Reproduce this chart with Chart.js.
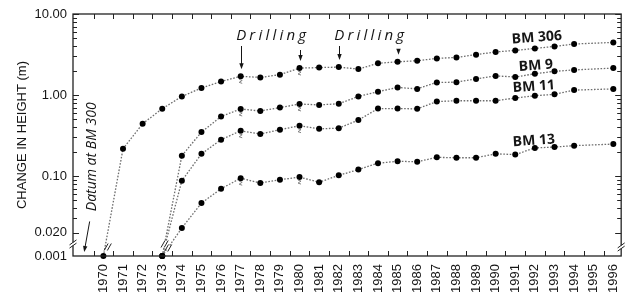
<!DOCTYPE html>
<html>
<head>
<meta charset="utf-8">
<script src="https://cdn.jsdelivr.net/npm/chart.js@4.4.0/dist/chart.umd.min.js"></script>
<style>
html, body { margin: 0; padding: 0; background: #fff; }
</style>
</head>
<body>
<canvas id="grafico" width="637" height="295"></canvas>
<script>
// Years on the x axis (1969 is the empty slot holding the datum note)
const anos = [1969, 1970, 1971, 1972, 1973, 1974, 1975, 1976, 1977, 1978, 1979, 1980, 1981, 1982,
              1983, 1984, 1985, 1986, 1987, 1988, 1989, 1990, 1991, 1992, 1993, 1994, 1995, 1996];
const anosRotulo = anos.slice(1);

// Change in height (m) per benchmark, null = no survey
const bm306 = [null, 0.001, 0.217, 0.442, 0.677, 0.96, 1.22, 1.47, 1.70, 1.65, 1.78, 2.15, 2.18, 2.21,
               2.09, 2.46, 2.57, 2.65, 2.83, 2.91, 3.15, 3.40, 3.55, 3.76, 3.98, 4.26, null, 4.46];
const bm9   = [null, null, null, null, 0.001, 0.178, 0.349, 0.544, 0.672, 0.635, 0.70, 0.774, 0.755, 0.78,
               0.96, 1.10, 1.24, 1.19, 1.43, 1.44, 1.58, 1.72, 1.67, 1.83, 1.96, 2.04, null, 2.15];
const bm11  = [null, null, null, null, 0.001, 0.0875, 0.188, 0.281, 0.362, 0.33, 0.373, 0.418, 0.382, 0.39,
               0.49, 0.68, 0.68, 0.675, 0.83, 0.85, 0.85, 0.85, 0.918, 0.98, 1.02, 1.15, null, 1.19];
const bm13  = [null, null, null, null, 0.001, 0.0228, 0.0464, 0.0697, 0.094, 0.082, 0.090, 0.097, 0.0838, 0.102,
               0.12, 0.144, 0.152, 0.15, 0.17, 0.168, 0.168, 0.188, 0.184, 0.222, 0.228, 0.237, null, 0.248];
const nomesSeries = ['BM 306', 'BM 9', 'BM 11', 'BM 13'];

// Y axis: broken below 0.020, the bottom edge stands for 0.001
const Y_MIN = 0.0103;
const Y_MAX = 10;
const ticksY = [Y_MIN, 0.02, 0.1, 1, 10];
const rotulosY = ['0.001', '0.020', '0.10', '1.00', '10.00'];

// Drilling years (arrows) and label spots
const anosPerfuracao = [1977, 1980, 1982, 1985];
const posRotulos = [[1992.1, 5.1], [1992.05, 2.3], [1991.95, 1.27], [1991.95, 0.272]];

const corTexto = '#151515';

function montarSerie(valores) {
    const pontos = [];
    valores.forEach(function (v, i) {
        if (v !== null) pontos.push({ x: anos[i], y: Math.max(v, Y_MIN) });
    });
    return pontos;
}

function seta(ctx, x1, y1, x2, y2) {
    const ang = Math.atan2(y2 - y1, x2 - x1);
    ctx.beginPath();
    ctx.moveTo(x1, y1);
    ctx.lineTo(x2 - 4 * Math.cos(ang), y2 - 4 * Math.sin(ang));
    ctx.stroke();
    ctx.beginPath();
    ctx.moveTo(x2, y2);
    ctx.lineTo(x2 - 6 * Math.cos(ang) + 2.2 * Math.sin(ang), y2 - 6 * Math.sin(ang) - 2.2 * Math.cos(ang));
    ctx.lineTo(x2 - 6 * Math.cos(ang) - 2.2 * Math.sin(ang), y2 - 6 * Math.sin(ang) + 2.2 * Math.cos(ang));
    ctx.closePath();
    ctx.fill();
}

function quebra(ctx, cx, cy, vertical) {
    // little "//" break mark
    ctx.save();
    ctx.fillStyle = '#fff';
    if (vertical) ctx.fillRect(cx - 3, cy - 1.5, 6, 3);
    else ctx.fillRect(cx - 1.5, cy - 3, 3, 6);
    ctx.strokeStyle = '#222';
    ctx.lineWidth = 1;
    [-1.6, 1.6].forEach(function (d) {
        ctx.beginPath();
        if (vertical) {
            ctx.moveTo(cx - 3.5, cy + d + 2.5);
            ctx.lineTo(cx + 3.5, cy + d - 2.5);
        } else {
            ctx.moveTo(cx + d - 2, cy + 3.5);
            ctx.lineTo(cx + d + 2, cy - 3.5);
        }
        ctx.stroke();
    });
    ctx.restore();
}

function textoEspacado(ctx, texto, cx, base, espaco) {
    let largura = 0;
    for (const c of texto) largura += ctx.measureText(c).width + espaco;
    largura -= espaco;
    let x = cx - largura / 2;
    ctx.textAlign = 'left';
    for (const c of texto) {
        ctx.fillText(c, x, base);
        x += ctx.measureText(c).width + espaco;
    }
}

const extras = {
    id: 'extras',
    afterDraw(chart) {
        const { ctx, chartArea: a, scales: { x, y } } = chart;
        ctx.save();

        // frame
        ctx.strokeStyle = '#222';
        ctx.lineWidth = 1.3;
        ctx.strokeRect(a.left, a.top, a.right - a.left, a.bottom - a.top);

        // inward tick marks, x at half years
        ctx.lineWidth = 1;
        ctx.beginPath();
        for (let v = 1969.5; v < 1996.4; v++) {
            const px = Math.round(x.getPixelForValue(v)) + 0.5;
            ctx.moveTo(px, a.bottom); ctx.lineTo(px, a.bottom - 5);
            ctx.moveTo(px, a.top); ctx.lineTo(px, a.top + 5);
        }
        // y: decades and minor ticks
        [0.01, 0.1, 1].forEach(function (d) {
            for (let m = 1; m <= 10; m++) {
                const v = d * m;
                if (v < 0.0199 || (m === 10 && d !== 1)) continue;
                const len = (m === 1 || m === 10 || v === 0.02) ? 6 : 4;
                const py = Math.round(y.getPixelForValue(v)) + 0.5;
                ctx.moveTo(a.left, py); ctx.lineTo(a.left + len, py);
                ctx.moveTo(a.right, py); ctx.lineTo(a.right - len, py);
            }
        });
        ctx.stroke();

        // axis breaks
        quebra(ctx, a.left, a.bottom - 12, true);
        quebra(ctx, a.right, a.bottom - 9, true);
        quebra(ctx, x.getPixelForValue(1970.22), a.bottom - 9, false);
        quebra(ctx, x.getPixelForValue(1973.3), a.bottom - 8, false);
        quebra(ctx, x.getPixelForValue(1973.12), a.bottom - 12, false);

        // drilling squiggles under the points
        ctx.strokeStyle = '#777';
        ctx.lineWidth = 0.9;
        chart.data.datasets.forEach(function (ds, i) {
            const meta = chart.getDatasetMeta(i);
            meta.data.forEach(function (pt, j) {
                const ano = ds.data[j].x;
                if (ano !== 1977 && ano !== 1980) return;
                ctx.beginPath();
                ctx.moveTo(pt.x - 1.5, pt.y + 3);
                ctx.lineTo(pt.x + 1.5, pt.y + 4);
                ctx.lineTo(pt.x - 1.5, pt.y + 6);
                ctx.lineTo(pt.x + 1.5, pt.y + 7);
                ctx.stroke();
            });
        });

        ctx.fillStyle = corTexto;
        ctx.strokeStyle = corTexto;
        ctx.lineWidth = 1;

        // Datum note
        ctx.save();
        ctx.translate(x.getPixelForValue(1969.43), y.getPixelForValue(0.173));
        ctx.rotate(-Math.PI / 2);
        ctx.font = 'italic 14px "Open Sans"';
        ctx.textAlign = 'center';
        ctx.textBaseline = 'middle';
        ctx.fillText('Datum at BM 300', 0, 0);
        ctx.restore();
        seta(ctx, x.getPixelForValue(1969.3), y.getPixelForValue(0.0275),
             x.getPixelForValue(1969.02), a.bottom - 4);

        // Drilling
        ctx.font = 'italic 15px "Open Sans"';
        ctx.textBaseline = 'alphabetic';
        textoEspacado(ctx, 'Drilling', x.getPixelForValue(1978.55), 39.5, 3.2);
        textoEspacado(ctx, 'Drilling', x.getPixelForValue(1983.55), 39.5, 3.2);
        const meta306 = chart.getDatasetMeta(0);
        anosPerfuracao.forEach(function (ano, k) {
            const pt = meta306.data.find(function (p, j) { return chart.data.datasets[0].data[j].x === ano; });
            const px = Math.round(pt.x) + 0.5;
            const topo = (k % 2 === 0) ? 46 : 50;
            seta(ctx, px, topo, px, pt.y - 7);
        });

        // series labels
        ctx.font = 'bold 14px "Open Sans"';
        ctx.textAlign = 'center';
        ctx.textBaseline = 'middle';
        posRotulos.forEach(function (p, i) {
            ctx.save();
            ctx.translate(x.getPixelForValue(p[0]), y.getPixelForValue(p[1]));
            ctx.rotate(-0.07);
            ctx.fillText(nomesSeries[i], 0, 0);
            ctx.restore();
        });

        ctx.restore();
    }
};

const series = [bm306, bm9, bm11, bm13];

const ctx = document.getElementById('grafico').getContext('2d');
const grafico = new Chart(ctx, {
    type: 'line',
    data: {
        datasets: series.map(function (s, i) {
            return {
                label: nomesSeries[i],
                data: montarSerie(s),
                borderColor: '#6e6e6e',
                borderWidth: 1.3,
                borderDash: [1.6, 1.6],
                pointRadius: 3,
                pointBackgroundColor: '#000',
                pointBorderWidth: 0,
                tension: 0,
                clip: false
            };
        })
    },
    options: {
        responsive: false,
        animation: false,
        devicePixelRatio: 1,
        layout: { padding: { left: 0, top: 14, right: 5, bottom: 0 } },
        plugins: { legend: { display: false }, tooltip: { enabled: false } },
        scales: {
            x: {
                type: 'linear',
                min: 1968.45,
                max: 1996.4,
                afterBuildTicks: function (s) { s.ticks = anosRotulo.map(function (v) { return { value: v }; }); },
                afterFit: function (s) { s.height = 39; },
                grid: { display: false, drawTicks: false },
                border: { display: false },
                ticks: {
                    autoSkip: false,
                    minRotation: 90,
                    maxRotation: 90,
                    padding: 8,
                    color: corTexto,
                    font: { family: '"Liberation Sans", Arial, sans-serif', size: 13 },
                    callback: function (v) { return String(v); }
                }
            },
            y: {
                type: 'logarithmic',
                min: Y_MIN,
                max: Y_MAX,
                afterBuildTicks: function (s) { s.ticks = ticksY.map(function (v) { return { value: v }; }); },
                afterFit: function (s) { s.width = 73; },
                grid: { display: false, drawTicks: false },
                border: { display: false },
                ticks: {
                    autoSkip: false,
                    padding: 6,
                    color: corTexto,
                    font: { family: '"Liberation Sans", Arial, sans-serif', size: 13 },
                    callback: function (v, i) { return rotulosY[i]; }
                },
                title: {
                    display: true,
                    text: 'CHANGE IN HEIGHT (m)',
                    color: corTexto,
                    font: { family: '"Liberation Sans", Arial, sans-serif', size: 13 },
                    padding: { top: 15, bottom: 0 }
                }
            }
        }
    },
    plugins: [extras]
});
</script>
</body>
</html>
